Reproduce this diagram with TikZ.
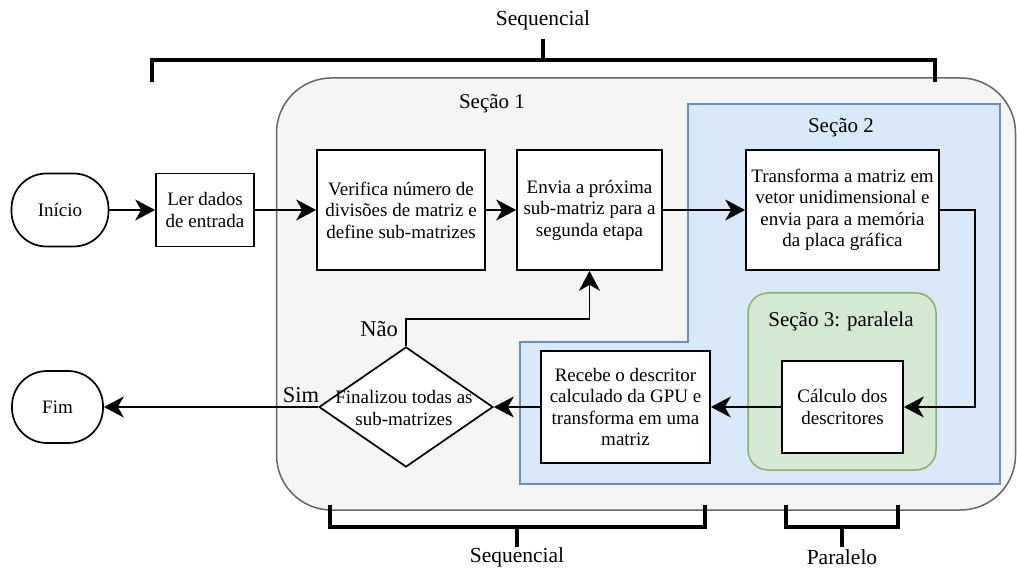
\documentclass[tikz,border=0pt]{standalone}
\usepackage{fontspec}
\setmainfont{Liberation Serif}
\usetikzlibrary{arrows.meta,shapes.geometric}
\definecolor{grayF}{HTML}{F5F5F5}
\definecolor{grayD}{HTML}{666666}
\definecolor{blueF}{HTML}{DAE8FC}
\definecolor{blueD}{HTML}{6C8EBF}
\definecolor{greenF}{HTML}{D5E8D4}
\definecolor{greenD}{HTML}{82B366}
\tikzset{
  txt/.style={font=\fontsize{19}{21.5}\selectfont, align=center, inner sep=0pt},
  seclabel/.style={font=\fontsize{21}{24}\selectfont, inner sep=0pt},
  yn/.style={font=\fontsize{22.5}{25}\selectfont, inner sep=0pt},
  box/.style={draw, line width=1.7pt, fill=white, txt, inner sep=2pt},
  term/.style={box, rounded corners=35pt, minimum width=97pt, minimum height=73pt},
  arr/.style={line width=1.7pt, -{Stealth[length=20pt, width=21pt, inset=6pt]}},
  brk/.style={line width=4pt, line join=miter},
  brklabel/.style={font=\fontsize{21.5}{24}\selectfont, inner sep=0pt},
}
\begin{document}
\begin{tikzpicture}[x=1pt,y=-1pt]
\useasboundingbox (0,0) rectangle (1017,569);
% regions
\draw[fill=grayF, draw=grayD, line width=1.5pt, rounded corners=55pt] (276.5,78) rectangle (1015.5,510);
\draw[fill=blueF, draw=blueD, line width=1.5pt] (688,104) -- (1000,104) -- (1000,484) -- (520,484) -- (520,342) -- (688,342) -- cycle;
\draw[fill=greenF, draw=greenD, line width=1.5pt, rounded corners=20pt] (748,293) rectangle (936,470);
% section labels
\node[seclabel] (s1) at (492,104) {Seção 1};
\node[seclabel] (s2) at (841,128) {Seção 2};
\node[seclabel] (s3) at (841,321) {Seção 3: paralela};
% nodes
\node[term] (inicio) at (60,210) {Início};
\node[box, minimum width=98pt, minimum height=73pt] (ler) at (205,210) {Ler dados\\de entrada};
\node[box, minimum width=168pt, minimum height=120pt] (verif) at (401,210) {Verifica número de\\divisões de matriz e\\define sub-matrizes};
\node[box, minimum width=145pt, minimum height=120pt] (envia) at (589.5,210) {Envia a próxima\\sub-matriz para a\\segunda etapa};
\node[box, minimum width=193pt, minimum height=120pt] (transf) at (842.5,210) {Transforma a matriz em\\vetor unidimensional e\\envia para a memória\\da placa gráfica};
\node[box, minimum width=121pt, minimum height=92pt] (calc) at (842.5,407) {Cálculo dos\\descritores};
\node[box, minimum width=169pt, minimum height=112pt] (receb) at (625.5,407) {Recebe o descritor\\calculado da GPU e\\transforma em uma\\matriz};
\node[draw, line width=1.7pt, fill=white, diamond, minimum width=174pt, minimum height=120pt, inner sep=0pt] (dec) at (406,407) {};
\node[txt] (dectxt) at (404,408) {Finalizou todas as\\sub-matrizes};
\node[term, minimum width=91pt, minimum height=72pt] (fim) at (57.5,407) {Fim};
% connectors
\coordinate (c1) at (975,210);
\coordinate (c2) at (406,319);
\draw[arr] (inicio) -- (ler);
\draw[arr] (ler) -- (verif);
\draw[arr] (verif) -- (envia);
\draw[arr] (envia) -- (transf);
\draw[arr] (transf.east) -- (c1) |- (calc.east);
\draw[arr] (calc) -- (receb);
\draw[arr] (receb) -- (dec);
\draw[arr] (dec.north) -- (c2) -| (envia.south);
\draw[arr] (dec.west) -- (fim.east);
\node[yn, anchor=east] (nao) at (398,329) {Não};
\node[yn] (sim) at (301,395) {Sim};
% brackets
\draw[brk] (152,82) -- (152,60) -- (935,60) -- (935,82);
\draw[brk] (543,60) -- (543,39);
\node[brklabel] (seqtop) at (543,20) {Sequencial};
\draw[brk] (330,505) -- (330,527) -- (705,527) -- (705,505);
\draw[brk] (517,527) -- (517,547);
\node[brklabel] (seqbot) at (517,557) {Sequencial};
\draw[brk] (786,505) -- (786,527) -- (898,527) -- (898,505);
\draw[brk] (842,527) -- (842,547);
\node[brklabel] (par) at (842,557.5) {Paralelo};
\end{tikzpicture}
\end{document}
